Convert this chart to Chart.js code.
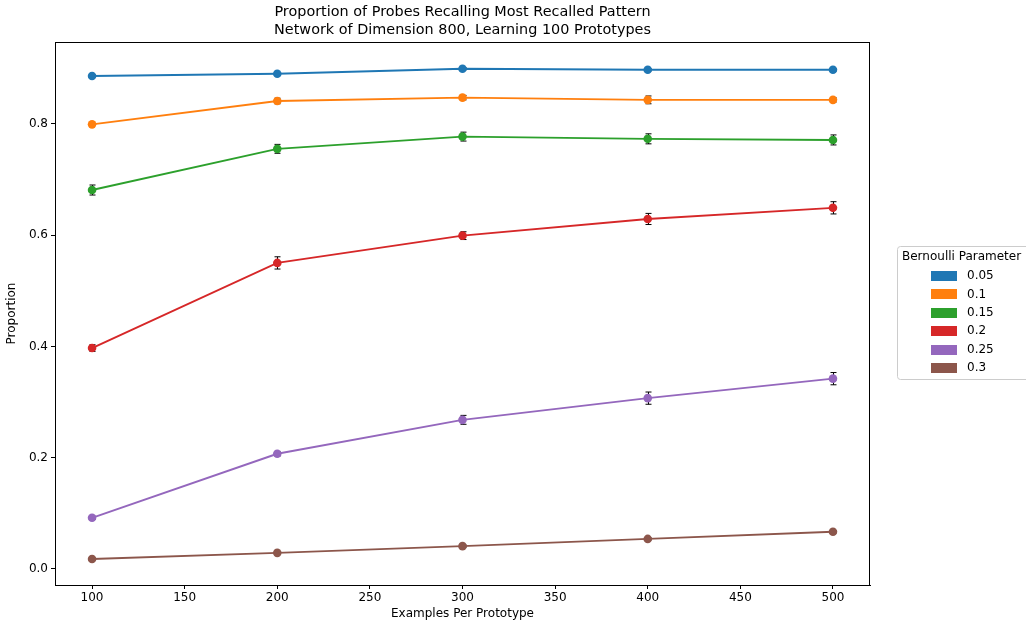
<!DOCTYPE html>
<html><head><meta charset="utf-8">
<script src="https://cdn.jsdelivr.net/npm/chart.js@4.4.0/dist/chart.umd.min.js"></script>
<style>html,body{margin:0;padding:0;background:#fff;overflow:hidden}#wrap{width:1026px;height:626px;position:relative}</style>
</head><body><div id="wrap"><canvas id="c" width="1026" height="626"></canvas></div>
<script>
const examplesPerPrototype = [100, 200, 300, 400, 500];
const xTicks = [100, 150, 200, 250, 300, 350, 400, 450, 500];
const yTicks = [0.0, 0.2, 0.4, 0.6, 0.8];
const seriesLabels = ['0.05', '0.1', '0.15', '0.2', '0.25', '0.3'];
const seriesColors = ['#1f77b4', '#ff7f0e', '#2ca02c', '#d62728', '#9467bd', '#8c564b'];

const p005 = [0.886, 0.890, 0.899, 0.897, 0.897];
const p010 = [0.799, 0.841, 0.847, 0.843, 0.843];
const p015 = [0.681, 0.755, 0.777, 0.773, 0.771];
const p020 = [0.397, 0.550, 0.599, 0.629, 0.649];
const p025 = [0.092, 0.207, 0.268, 0.307, 0.342];
const p030 = [0.018, 0.029, 0.041, 0.054, 0.067];

const e005 = [0.002, 0.002, 0.002, 0.002, 0.002];
const e010 = [0.002, 0.005, 0.004, 0.007, 0.004];
const e015 = [0.009, 0.008, 0.008, 0.009, 0.009];
const e020 = [0.006, 0.011, 0.007, 0.010, 0.011];
const e025 = [0.003, 0.004, 0.008, 0.011, 0.011];
const e030 = [0.002, 0.002, 0.002, 0.002, 0.002];

const titleLines = ['Proportion of Probes Recalling Most Recalled Pattern', 'Network of Dimension 800, Learning 100 Prototypes'];
const xTitle = 'Examples Per Prototype';
const yTitle = 'Proportion';
const legendTitle = 'Bernoulli Parameter';

const seriesValues = [p005, p010, p015, p020, p025, p030];
const seriesErrors = [e005, e010, e015, e020, e025, e030];

const FONT = 'DejaVu Sans';

const datasets = seriesValues.map((vals, i) => ({
  label: seriesLabels[i],
  data: vals.map((v, j) => ({x: examplesPerPrototype[j], y: v})),
  errors: seriesErrors[i],
  borderColor: seriesColors[i],
  backgroundColor: seriesColors[i],
  pointBackgroundColor: seriesColors[i],
  pointBorderColor: seriesColors[i],
  pointRadius: 4.3,
  pointBorderWidth: 0,
  borderWidth: 1.9,
  tension: 0,
  fill: false
}));

const errorBarPlugin = {
  id: 'errorBars',
  beforeDatasetsDraw(chart) {
    const ctx = chart.ctx, xs = chart.scales.x, ys = chart.scales.y;
    ctx.save();
    ctx.strokeStyle = '#000';
    ctx.lineWidth = 1;
    chart.data.datasets.forEach(ds => {
      ds.data.forEach((pt, j) => {
        const e = ds.errors[j];
        const px = Math.round(xs.getPixelForValue(pt.x)) + 0.5;
        const y1 = ys.getPixelForValue(pt.y - e), y2 = ys.getPixelForValue(pt.y + e);
        ctx.beginPath();
        ctx.moveTo(px, y1); ctx.lineTo(px, y2);
        ctx.moveTo(px - 3, y1); ctx.lineTo(px + 3, y1);
        ctx.moveTo(px - 3, y2); ctx.lineTo(px + 3, y2);
        ctx.stroke();
      });
    });
    ctx.restore();
  }
};

const framePlugin = {
  id: 'frameAndText',
  afterDraw(chart) {
    const ctx = chart.ctx, a = chart.chartArea;
    ctx.save();
    ctx.strokeStyle = '#000';
    ctx.lineWidth = 1;
    ctx.strokeRect(Math.round(a.left) + 0.5, Math.round(a.top) + 0.5, Math.round(a.right - a.left) - 1, Math.round(a.bottom - a.top));
    ctx.fillStyle = '#000';
    ctx.font = '14.4px "' + FONT + '"';
    ctx.textAlign = 'center';
    ctx.textBaseline = 'middle';
    const cx = (a.left + a.right) / 2;
    ctx.fillText(titleLines[0], cx, 12);
    ctx.fillText(titleLines[1], cx, 30);
    const lx = 897, ly = 246, lw = 140, lh = 133;
    ctx.fillStyle = 'rgba(255,255,255,0.8)';
    ctx.strokeStyle = '#cccccc';
    ctx.beginPath();
    if (ctx.roundRect) ctx.roundRect(lx + 0.5, ly + 0.5, lw, lh, 3); else ctx.rect(lx + 0.5, ly + 0.5, lw, lh);
    ctx.fill(); ctx.stroke();
    ctx.fillStyle = '#000';
    ctx.font = '12px "' + FONT + '"';
    ctx.textAlign = 'left';
    ctx.fillText(legendTitle, 902, 257);
    chart.data.datasets.forEach((ds, i) => {
      const cy = 276 + i * 18.4;
      ctx.fillStyle = ds.borderColor;
      ctx.fillRect(931, Math.round(cy - 5), 26, 10);
      ctx.fillStyle = '#000';
      ctx.fillText(ds.label, 967, cy);
    });
    ctx.restore();
  }
};

new Chart(document.getElementById('c'), {
  type: 'line',
  data: {datasets},
  options: {
    responsive: false,
    animation: false,
    devicePixelRatio: 1,
    layout: {padding: {top: 42, right: 156, bottom: 0, left: 0}},
    plugins: {legend: {display: false}, title: {display: false}, tooltip: {enabled: false}},
    scales: {
      x: {
        type: 'linear', min: 80, max: 520,
        afterBuildTicks: s => { s.ticks = xTicks.map(v => ({value: v})); },
        afterFit: s => { s.height = 41; },
        grid: {display: true, drawOnChartArea: false, drawTicks: true, tickLength: 4, color: '#000', tickWidth: 1},
        border: {display: true, color: '#000', width: 1},
        ticks: {color: '#000', font: {family: FONT, size: 12}, padding: 2, maxRotation: 0, callback: v => String(v)},
        title: {display: true, text: xTitle, color: '#000', font: {family: FONT, size: 12}, padding: {top: 0, bottom: 5}}
      },
      y: {
        type: 'linear', min: -0.0288, max: 0.947,
        afterBuildTicks: s => { s.ticks = yTicks.map(v => ({value: v})); },
        afterFit: s => { s.width = 55; },
        grid: {display: true, drawOnChartArea: false, drawTicks: true, tickLength: 4, color: '#000', tickWidth: 1},
        border: {display: true, color: '#000', width: 1},
        ticks: {color: '#000', font: {family: FONT, size: 12}, padding: 3, callback: v => Number(v).toFixed(1)},
        title: {display: true, text: yTitle, color: '#000', font: {family: FONT, size: 12}, padding: {top: 5, bottom: 0}}
      }
    }
  },
  plugins: [errorBarPlugin, framePlugin]
});
</script></body></html>
